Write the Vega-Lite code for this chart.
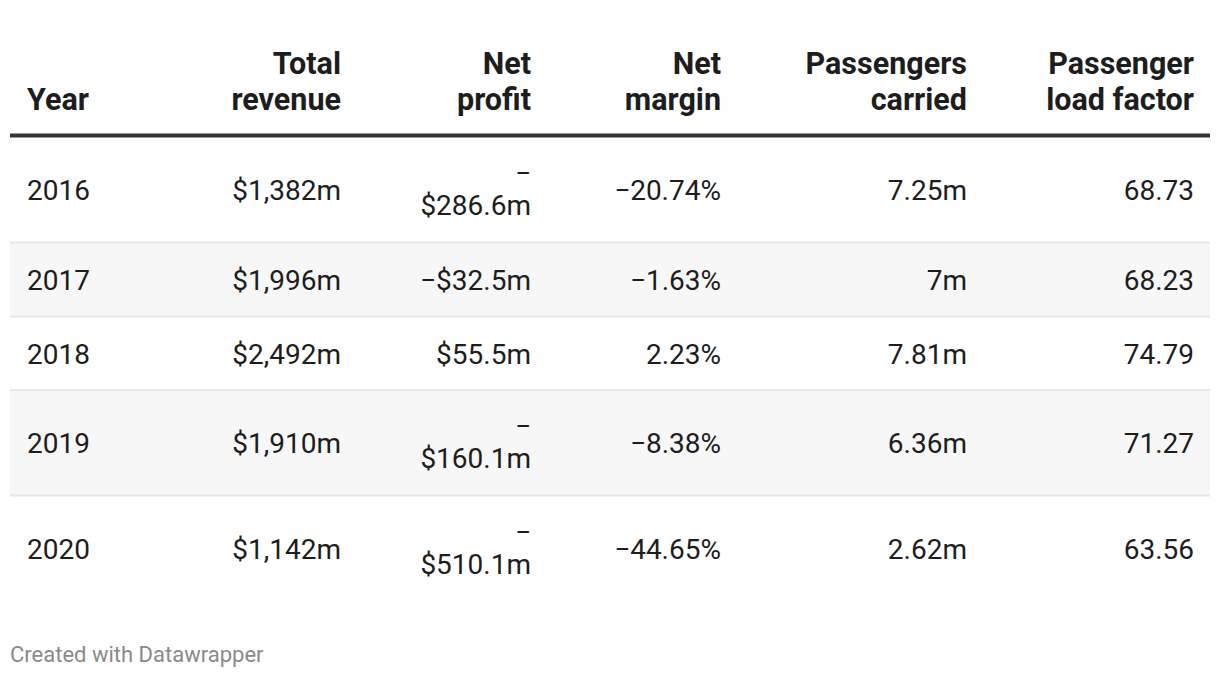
{
  "$schema": "https://vega.github.io/schema/vega-lite/v6.json",
  "width": 1200,
  "height": 678,
  "autosize": "none",
  "padding": {"left": 10, "right": 10, "top": 0, "bottom": 0},
  "background": "#ffffff",
  "config": {"view": {"stroke": null}, "font": "Roboto"},
  "datasets": {
    "rows": [
      {"Row": 1, "Year": "2016"}, {"Row": 2, "Year": "2017"}, {"Row": 3, "Year": "2018"}, {"Row": 4, "Year": "2019"}, {"Row": 5, "Year": "2020"}
    ],
    "headers": [
      {"Row": 0, "Col": 1, "Column": "Year", "Label": "Year"},
      {"Row": 0, "Col": 2, "Column": "Total revenue", "Label": "Total\nrevenue"},
      {"Row": 0, "Col": 3, "Column": "Net profit", "Label": "Net\nprofit"},
      {"Row": 0, "Col": 4, "Column": "Net margin", "Label": "Net\nmargin"},
      {"Row": 0, "Col": 5, "Column": "Passengers carried", "Label": "Passengers\ncarried"},
      {"Row": 0, "Col": 6, "Column": "Passenger load factor", "Label": "Passenger\nload factor"}
    ],
    "cells": [
      {"Row": 1, "Col": 1, "Column": "Year", "Value": "2016"},
      {"Row": 1, "Col": 2, "Column": "Total revenue", "Value": "$1,382m"},
      {"Row": 1, "Col": 3, "Column": "Net profit", "Value": "−\n$286.6m"},
      {"Row": 1, "Col": 4, "Column": "Net margin", "Value": "−20.74%"},
      {"Row": 1, "Col": 5, "Column": "Passengers carried", "Value": "7.25m"},
      {"Row": 1, "Col": 6, "Column": "Passenger load factor", "Value": "68.73"},
      {"Row": 2, "Col": 1, "Column": "Year", "Value": "2017"},
      {"Row": 2, "Col": 2, "Column": "Total revenue", "Value": "$1,996m"},
      {"Row": 2, "Col": 3, "Column": "Net profit", "Value": "−$32.5m"},
      {"Row": 2, "Col": 4, "Column": "Net margin", "Value": "−1.63%"},
      {"Row": 2, "Col": 5, "Column": "Passengers carried", "Value": "7m"},
      {"Row": 2, "Col": 6, "Column": "Passenger load factor", "Value": "68.23"},
      {"Row": 3, "Col": 1, "Column": "Year", "Value": "2018"},
      {"Row": 3, "Col": 2, "Column": "Total revenue", "Value": "$2,492m"},
      {"Row": 3, "Col": 3, "Column": "Net profit", "Value": "$55.5m"},
      {"Row": 3, "Col": 4, "Column": "Net margin", "Value": "2.23%"},
      {"Row": 3, "Col": 5, "Column": "Passengers carried", "Value": "7.81m"},
      {"Row": 3, "Col": 6, "Column": "Passenger load factor", "Value": "74.79"},
      {"Row": 4, "Col": 1, "Column": "Year", "Value": "2019"},
      {"Row": 4, "Col": 2, "Column": "Total revenue", "Value": "$1,910m"},
      {"Row": 4, "Col": 3, "Column": "Net profit", "Value": "−\n$160.1m"},
      {"Row": 4, "Col": 4, "Column": "Net margin", "Value": "−8.38%"},
      {"Row": 4, "Col": 5, "Column": "Passengers carried", "Value": "6.36m"},
      {"Row": 4, "Col": 6, "Column": "Passenger load factor", "Value": "71.27"},
      {"Row": 5, "Col": 1, "Column": "Year", "Value": "2020"},
      {"Row": 5, "Col": 2, "Column": "Total revenue", "Value": "$1,142m"},
      {"Row": 5, "Col": 3, "Column": "Net profit", "Value": "−\n$510.1m"},
      {"Row": 5, "Col": 4, "Column": "Net margin", "Value": "−44.65%"},
      {"Row": 5, "Col": 5, "Column": "Passengers carried", "Value": "2.62m"},
      {"Row": 5, "Col": 6, "Column": "Passenger load factor", "Value": "63.56"}
    ],
    "notes": [{"Row": 6, "Col": 0, "Note": "Created with Datawrapper"}]
  },
  "layer": [
    {
      "data": {"name": "rows"},
      "transform": [{"filter": "datum.Year === '2017'"}],
      "mark": {"type": "rule", "strokeWidth": 75, "color": "#f7f7f7"},
      "encoding": {
        "y": {"field": "Row", "type": "quantitative", "axis": null,
          "scale": {"domain": [0, 1, 2, 3, 4, 5, 6], "range": [110, 189.5, 279.5, 353.5, 443, 548.5, 655], "nice": false, "zero": false}}
      }
    },
    {
      "data": {"name": "rows"},
      "transform": [{"filter": "datum.Year === '2019'"}],
      "mark": {"type": "rule", "strokeWidth": 106, "color": "#f7f7f7"},
      "encoding": {"y": {"field": "Row", "type": "quantitative", "axis": null}}
    },
    {
      "data": {"name": "rows"},
      "transform": [{"filter": {"field": "Year", "oneOf": ["2017", "2018"]}}],
      "mark": {"type": "rule", "strokeWidth": 2, "color": "#e6e6e6", "yOffset": -37},
      "encoding": {"y": {"field": "Row", "type": "quantitative", "axis": null}}
    },
    {
      "data": {"name": "rows"},
      "transform": [{"filter": {"field": "Year", "oneOf": ["2019", "2020"]}}],
      "mark": {"type": "rule", "strokeWidth": 2, "color": "#e6e6e6", "yOffset": -53},
      "encoding": {"y": {"field": "Row", "type": "quantitative", "axis": null}}
    },
    {
      "data": {"name": "headers"},
      "transform": [{"filter": "datum.Column === 'Year'"}],
      "mark": {"type": "rule", "strokeWidth": 4, "color": "#333333", "yOffset": 25.5},
      "encoding": {"y": {"field": "Row", "type": "quantitative", "axis": null}}
    },
    {
      "data": {"name": "headers"},
      "transform": [{"filter": "datum.Column === 'Year'"}],
      "mark": {"type": "text", "align": "left", "baseline": "alphabetic", "fontSize": 30.5, "fontWeight": "bold", "color": "#1d1d1d"},
      "encoding": {
        "x": {"field": "Col", "type": "quantitative", "axis": null,
          "scale": {"domain": [0, 1, 2, 3, 4, 5, 6, 7], "range": [0, 17, 331, 521, 711, 957, 1184, 1200], "nice": false, "zero": false}},
        "y": {"field": "Row", "type": "quantitative", "axis": null},
        "text": {"field": "Label"}
      }
    },
    {
      "data": {"name": "headers"},
      "transform": [{"filter": "datum.Column !== 'Year'"}],
      "mark": {"type": "text", "align": "right", "baseline": "alphabetic", "fontSize": 30.5, "fontWeight": "bold", "color": "#1d1d1d", "lineBreak": "\n", "lineHeight": 36, "yOffset": -36},
      "encoding": {
        "x": {"field": "Col", "type": "quantitative", "axis": null},
        "y": {"field": "Row", "type": "quantitative", "axis": null},
        "text": {"field": "Label"}
      }
    },
    {
      "data": {"name": "cells"},
      "transform": [{"filter": "datum.Column === 'Year'"}],
      "mark": {"type": "text", "align": "left", "baseline": "middle", "fontSize": 28, "color": "#1d1d1d", "yOffset": 2},
      "encoding": {
        "x": {"field": "Col", "type": "quantitative", "axis": null},
        "y": {"field": "Row", "type": "quantitative", "axis": null},
        "text": {"field": "Value"}
      }
    },
    {
      "data": {"name": "cells"},
      "transform": [{"filter": "datum.Column !== 'Year' && indexof(datum.Value, '\\n') < 0"}],
      "mark": {"type": "text", "align": "right", "baseline": "middle", "fontSize": 28, "color": "#1d1d1d", "yOffset": 2},
      "encoding": {
        "x": {"field": "Col", "type": "quantitative", "axis": null},
        "y": {"field": "Row", "type": "quantitative", "axis": null},
        "text": {"field": "Value"}
      }
    },
    {
      "data": {"name": "cells"},
      "transform": [{"filter": "datum.Column !== 'Year' && indexof(datum.Value, '\\n') >= 0"}],
      "mark": {"type": "text", "align": "right", "baseline": "middle", "fontSize": 28, "color": "#1d1d1d", "lineBreak": "\n", "lineHeight": 32, "yOffset": -15},
      "encoding": {
        "x": {"field": "Col", "type": "quantitative", "axis": null},
        "y": {"field": "Row", "type": "quantitative", "axis": null},
        "text": {"field": "Value"}
      }
    },
    {
      "data": {"name": "notes"},
      "mark": {"type": "text", "align": "left", "baseline": "middle", "fontSize": 22, "color": "#8a8a8a"},
      "encoding": {
        "x": {"field": "Col", "type": "quantitative", "axis": null},
        "y": {"field": "Row", "type": "quantitative", "axis": null},
        "text": {"field": "Note"}
      }
    }
  ]
}
